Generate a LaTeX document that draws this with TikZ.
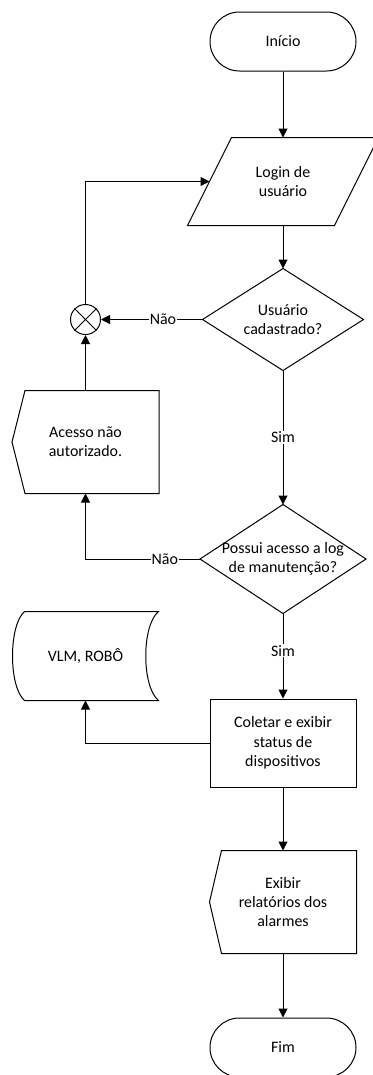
\documentclass[tikz,border=0pt]{standalone}
\usepackage{fontspec}
\setmainfont{Carlito}
\usetikzlibrary{arrows.meta,calc}
\begin{document}
\begin{tikzpicture}[x=1bp,y=-1bp, line width=1bp,
  font=\fontsize{16}{19.5}\selectfont,
  box/.style={rectangle, inner sep=0pt, align=center},
  term/.style={box, draw, rounded corners=29.5bp, minimum width=146bp, minimum height=59bp},
  arr/.style={-{Triangle[length=9bp,width=9bp]}},
  lbl/.style={fill=white, inner sep=1bp}]
\useasboundingbox (0,0) rectangle (372,1075);
% nodes
\node[term] (ini) at (283,41.5) {Início};
\node[box, minimum width=190bp, minimum height=87bp] (login) at (283,181.5) {Login de\\usuário};
\draw (login.south west) -- ++(147,0) -- (login.north east) -- ++(-147,0) -- cycle;
\coordinate (loginW) at (209.5,181.5);
\node[box, minimum width=160bp, minimum height=101bp] (d1) at (283,319.5) {Usuário\\cadastrado?};
\draw (d1.north) -- (d1.east) -- (d1.south) -- (d1.west) -- cycle;
\node[draw, circle, minimum size=30bp, inner sep=0pt] (mx) at (85.5,319.5) {};
\draw (mx.north west) -- (mx.south east) (mx.north east) -- (mx.south west);
\node[box, minimum width=146bp, minimum height=102bp] (acc) at (85.5,442) {Acesso não\\autorizado.};
\draw (acc.west) -- ($(acc.north west)+(13,0)$) -- (acc.north east) -- (acc.south east) -- ($(acc.south west)+(13,0)$) -- cycle;
\node[box, minimum width=165bp, minimum height=108bp] (d2) at (283,559) {Possui acesso a log\\de manutenção?};
\draw (d2.north) -- (d2.east) -- (d2.south) -- (d2.west) -- cycle;
\node[box, minimum width=145bp, minimum height=88bp] (vlm) at (85.5,656) {VLM, ROBÔ};
\draw ($(vlm.north west)+(12,0)$) -- (vlm.north east) .. controls +(-17,14) and +(-17,-14) .. (vlm.south east) -- ($(vlm.south west)+(12,0)$) .. controls +(-16,-14) and +(-16,14) .. ($(vlm.north west)+(12,0)$) -- cycle;
\node[box, draw, minimum width=146bp, minimum height=88bp] (col) at (283,743) {Coletar e exibir\\status de\\dispositivos};
\node[box, minimum width=146bp, minimum height=102bp] (rel) at (283,902) {Exibir\\relatórios dos\\alarmes};
\draw (rel.west) -- ($(rel.north west)+(12,0)$) -- (rel.north east) -- (rel.south east) -- ($(rel.south west)+(12,0)$) -- cycle;
\node[term] (fim) at (283,1047.5) {Fim};
% connectors
\draw[arr] (ini) -- (login);
\draw[arr] (login) -- (d1);
\draw[arr] (d1.west) -- node[lbl, pos=0.39]{Não} (mx.east);
\draw[arr] (acc.north) -- (mx.south);
\draw[arr] (mx.north) |- (loginW);
\draw[arr] (d1.south) -- node[lbl]{Sim} (d2.north);
\draw[arr] (d2.west) -| node[lbl, pos=0.154]{Não} (acc.south);
\draw[arr] (d2.south) -- node[lbl, pos=0.44]{Sim} (col.north);
\draw[arr] (col.west) -| (vlm.south);
\draw[arr] (col) -- (rel);
\draw[arr] (rel) -- (fim);
\end{tikzpicture}
\end{document}
